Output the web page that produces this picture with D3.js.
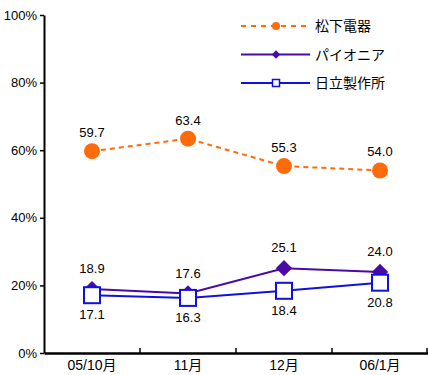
<!DOCTYPE html>
<html>
<head>
<meta charset="utf-8">
<script src="https://cdn.jsdelivr.net/npm/d3@7"></script>
<style>
  body { margin: 0; background: #fff; }
  text { font-family: "Liberation Sans", Arial, "Noto Sans CJK JP", sans-serif; }
</style>
</head>
<body>
<div id="chart"></div>
<script>
const months = ["05/10月", "11月", "12月", "06/1月"];
const matsushita = [59.7, 63.4, 55.3, 54.0];
const pioneer = [18.9, 17.6, 25.1, 24.0];
const hitachi = [17.1, 16.3, 18.4, 20.8];
const yTicks = [0, 20, 40, 60, 80, 100];

const width = 428;
const height = 375;

const svg = d3
  .select("#chart")
  .append("svg")
  .attr("width", width)
  .attr("height", height);

const x = d3.scaleBand().domain(months).range([44, 428]).padding(0);
const y = d3.scaleLinear().domain([0, 100]).range([353, 15]);
const cx = (i) => x(months[i]) + x.bandwidth() / 2;

// y axis
const yAxis = svg
  .append("g")
  .attr("transform", "translate(44,0)")
  .call(
    d3.axisLeft(y).tickValues(yTicks).tickSize(4).tickSizeOuter(0).tickPadding(3)
      .tickFormat((d) => d + "%")
  );
yAxis.select(".domain").attr("stroke-width", 2);
yAxis.selectAll(".tick line").attr("stroke-width", 1.5);
yAxis.selectAll("text").style("font-size", "13px").attr("fill", "#000");

// x axis
const xAxis = svg
  .append("g")
  .attr("transform", "translate(0,353)")
  .call(d3.axisBottom(x).tickSize(0).tickSizeOuter(0).tickPadding(7));
xAxis.select(".domain").attr("stroke-width", 2.5);
xAxis.selectAll("text").style("font-size", "14px").attr("fill", "#000");
xAxis
  .selectAll(".bound")
  .data(months)
  .enter()
  .append("line")
  .attr("x1", (d) => x(d) + x.bandwidth() - (d === "06/1月" ? 1 : 0))
  .attr("x2", (d) => x(d) + x.bandwidth() - (d === "06/1月" ? 1 : 0))
  .attr("y1", 0)
  .attr("y2", -5)
  .attr("stroke", "#000")
  .attr("stroke-width", 1.5);

const line = d3.line().x((d, i) => cx(i)).y((d) => y(d));

// Pioneer
svg.append("path")
  .attr("d", line(pioneer))
  .attr("fill", "none")
  .attr("stroke", "#4a0aa8")
  .attr("stroke-width", 2);
svg.selectAll(".pio")
  .data(pioneer)
  .enter()
  .append("path")
  .attr("d", d3.symbol().type(d3.symbolDiamond2).size(170)())
  .attr("transform", (d, i) => `translate(${cx(i)},${y(d)})`)
  .attr("fill", "#4a0aa8");

// Hitachi
svg.append("path")
  .attr("d", line(hitachi))
  .attr("fill", "none")
  .attr("stroke", "#1010e0")
  .attr("stroke-width", 2);
svg.selectAll(".hit")
  .data(hitachi)
  .enter()
  .append("rect")
  .attr("x", (d, i) => cx(i) - 8)
  .attr("y", (d) => y(d) - 8)
  .attr("width", 16)
  .attr("height", 16)
  .attr("fill", "#fff")
  .attr("stroke", "#1010e0")
  .attr("stroke-width", 2);

// Matsushita
svg.append("path")
  .attr("d", line(matsushita))
  .attr("fill", "none")
  .attr("stroke", "#ff6a0a")
  .attr("stroke-width", 2)
  .attr("stroke-dasharray", "5,4");
svg.selectAll(".mat")
  .data(matsushita)
  .enter()
  .append("circle")
  .attr("cx", (d, i) => cx(i))
  .attr("cy", (d) => y(d))
  .attr("r", 8)
  .attr("fill", "#ff6a0a");

// value labels
function labels(data, dy) {
  svg.append("g")
    .selectAll("text")
    .data(data)
    .enter()
    .append("text")
    .attr("x", (d, i) => cx(i))
    .attr("y", (d) => y(d) + dy)
    .attr("text-anchor", "middle")
    .style("font-size", "13px")
    .text((d) => d.toFixed(1));
}
labels(matsushita, -14);
labels(pioneer, -16);
labels(hitachi, 24);

// legend
const legend = [
  { name: "松下電器", color: "#ff6a0a", dash: "5,5", mark: "circle" },
  { name: "パイオニア", color: "#4a0aa8", dash: null, mark: "diamond" },
  { name: "日立製作所", color: "#1010e0", dash: null, mark: "square" },
];
const lg = svg.append("g");
legend.forEach((l, i) => {
  const ly = 26 + i * 28.5;
  lg.append("line")
    .attr("x1", 241).attr("x2", 310)
    .attr("y1", ly).attr("y2", ly)
    .attr("stroke", l.color)
    .attr("stroke-width", 2)
    .attr("stroke-dasharray", l.dash);
  if (l.mark === "circle") {
    lg.append("circle").attr("cx", 276).attr("cy", ly).attr("r", 4).attr("fill", l.color);
  } else if (l.mark === "diamond") {
    lg.append("path")
      .attr("d", d3.symbol().type(d3.symbolDiamond2).size(45)())
      .attr("transform", `translate(276,${ly})`)
      .attr("fill", l.color);
  } else {
    lg.append("rect")
      .attr("x", 272.5).attr("y", ly - 3.5)
      .attr("width", 7).attr("height", 7)
      .attr("fill", "#fff").attr("stroke", l.color).attr("stroke-width", 1.5);
  }
  lg.append("text")
    .attr("x", 315).attr("y", ly + 5)
    .style("font-size", "14px")
    .text(l.name);
});
</script>
</body>
</html>
